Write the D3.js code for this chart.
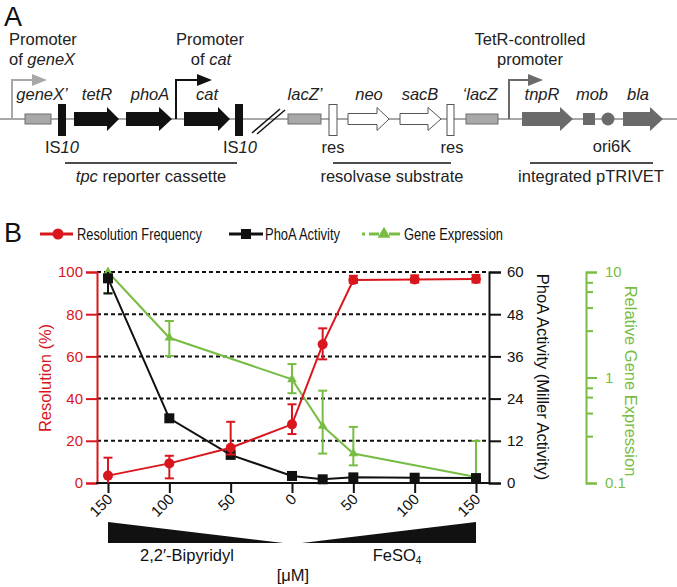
<!DOCTYPE html>
<html><head><meta charset="utf-8">
<script src="https://cdn.jsdelivr.net/npm/d3@7"></script>
<style>
body{margin:0;background:#fff;}
svg{display:block;font-family:"Liberation Sans",Arial,Helvetica,sans-serif;}
</style></head>
<body><svg id="c" width="677" height="587"></svg>
<script>
// ---------- Panel B data ----------
// signed concentration (µM): negative = 2,2'-Bipyridyl, positive = FeSO4
const conc = [-150, -100, -50, 0, 25, 50, 100, 150];
const tickConc = [-150, -100, -50, 0, 50, 100, 150];
const resolution = [3.5, 9.3, 16.7, 27.8, 65.7, 96.2, 96.5, 96.7];
const resolutionLow = [0, 2.2, 13.5, 23.2, 58.6, 94.8, 95.0, 95.0];
const resolutionHigh = [12, 12.9, 29.0, 37.3, 73.3, 98.2, 98.4, 98.6];
const phoA = [58.2, 18.4, 8.0, 2.0, 1.05, 1.6, 1.5, 1.4];
const phoALow = [53.9, 18.4, 8.0, 2.0, 1.05, 1.6, 1.5, 1.4];
const phoAHigh = [60, 18.4, 8.0, 2.0, 1.05, 1.6, 1.5, 1.4];
const geneConc = [-150, -100, 0, 25, 50, 150];
const geneExpr = [10, 2.38, 0.96, 0.347, 0.19, 0.114];
const geneLow = [6.3, 1.6, 0.71, 0.19, 0.147, 0.1];
const geneHigh = [10, 3.43, 1.34, 0.75, 0.34, 0.25];
const resTicks = [0, 20, 40, 60, 80, 100];
const phoTicks = [0, 12, 24, 36, 48, 60];
const geneMajor = [0.1, 1, 10];
const geneMinor = [7.9, 6.45, 4.55, 2.75, 0.79, 0.645, 0.455, 0.275];

// ---------- Panel A data (map positions along construct) ----------
const backbone = [0, 677];
const greyBoxes = [{x0:25,x1:51,name:"geneX\u2019"},{x0:288,x1:321,name:"lacZ\u2019"},{x0:466,x1:498,name:"\u2018lacZ"}];
const isBars = [{x0:58,x1:66},{x0:235,x1:243}];
const blackArrows = [{x0:74,xh:107,x1:119,name:"tetR"},{x0:126,xh:159,x1:172,name:"phoA"},{x0:184,xh:218,x1:230,name:"cat"}];
const openArrows = [{x0:348,xh:377,x1:389,name:"neo"},{x0:400,xh:428,x1:441,name:"sacB"}];
const darkArrows = [{x0:522,xh:560,x1:573,name:"tnpR"},{x0:623,xh:650,x1:663,name:"bla"}];
const resBoxes = [{x0:329,x1:337},{x0:447,x1:454}];
const promoters = [{x:12,tip:47,color:"#a8a8a8"},{x:176,tip:212,color:"#111"},{x:509,tip:543,color:"#6a6a6a"}];
const brackets = [{x0:65,x1:237,label:"tpc"},{x0:333,x1:451,label:"resolvase substrate"},{x0:530,x1:653,label:"integrated pTRIVET"}];

const RED = "#d9161e", GREEN = "#78bd43", BLACK = "#111";
const svg = d3.select("#c");
const xa = d3.scaleLinear().domain([0,677]).range([0,677]);
const yLine = 119;

// ===== Panel A =====
const A = svg.append("g");
A.append("text").attr("x",4).attr("y",26).attr("font-size",27).attr("fill","#111").text("A");
A.append("line").attr("x1",xa(backbone[0])).attr("x2",xa(backbone[1])).attr("y1",yLine).attr("y2",yLine).attr("stroke","#a8a8a8").attr("stroke-width",2);
// promoters
promoters.forEach(p=>{
  A.append("path").attr("d",`M${xa(p.x)},${yLine}V80H${xa(p.tip)-14}`).attr("fill","none").attr("stroke",p.color).attr("stroke-width",2);
  A.append("path").attr("d",`M${xa(p.tip)-15},74L${xa(p.tip)},80L${xa(p.tip)-15},86Z`).attr("fill",p.color);
});
// grey boxes
greyBoxes.forEach(b=>{
  A.append("rect").attr("x",xa(b.x0)).attr("y",114).attr("width",xa(b.x1)-xa(b.x0)).attr("height",10).attr("fill","#a8a8a8").attr("stroke","#6f6f6f").attr("stroke-width",1);
});
isBars.forEach(b=>A.append("rect").attr("x",xa(b.x0)).attr("y",104).attr("width",xa(b.x1)-xa(b.x0)).attr("height",32).attr("fill","#111"));
resBoxes.forEach(b=>A.append("rect").attr("x",xa(b.x0)).attr("y",104.5).attr("width",xa(b.x1)-xa(b.x0)).attr("height",31).attr("fill","#fff").attr("stroke","#555").attr("stroke-width",1));
function arrowPath(a,bh,hh){
  return `M${xa(a.x0)},${yLine-bh}H${xa(a.xh)}V${yLine-hh}L${xa(a.x1)},${yLine}L${xa(a.xh)},${yLine+hh}V${yLine+bh}H${xa(a.x0)}Z`;
}
blackArrows.forEach(a=>A.append("path").attr("d",arrowPath(a,7,12)).attr("fill","#111"));
openArrows.forEach(a=>A.append("path").attr("d",arrowPath(a,5.5,11.5)).attr("fill","#fff").attr("stroke","#555").attr("stroke-width",1));
darkArrows.forEach(a=>A.append("path").attr("d",arrowPath(a,7,12)).attr("fill","#6a6a6a"));
A.append("rect").attr("x",xa(583)).attr("y",113).attr("width",12).attr("height",12).attr("fill","#6a6a6a");
A.append("circle").attr("cx",xa(608)).attr("cy",yLine).attr("r",6.5).attr("fill","#6a6a6a");
// break marks
A.append("line").attr("x1",252).attr("y1",133).attr("x2",280).attr("y2",109).attr("stroke","#111").attr("stroke-width",1.5);
A.append("line").attr("x1",257).attr("y1",134).attr("x2",285).attr("y2",110).attr("stroke","#111").attr("stroke-width",1.5);
// gene labels
const fA = 16.5;
function lab(x,y,t,it,anchor){
  return A.append("text").attr("x",x).attr("y",y).attr("font-size",fA).attr("fill","#222").attr("text-anchor",anchor||"middle").attr("font-style",it?"italic":"normal").text(t);
}
greyBoxes.forEach((b,i)=>lab(xa([42,305,480][i]),100,b.name,true));
blackArrows.forEach((a,i)=>lab(xa([97,150,207][i]),100,a.name,true));
openArrows.forEach((a,i)=>lab(xa([369,420][i]),100,a.name,true));
darkArrows.forEach((a,i)=>lab(xa([542,638][i]),100,a.name,true));
lab(xa(592),100,"mob",true);
lab(9,45,"Promoter",false,"start");
{const t=lab(9,65,"of ",false,"start"); t.append("tspan").attr("font-style","italic").text("geneX");}
lab(210,45,"Promoter");
{const t=lab(211,65,"of ");t.append("tspan").attr("font-style","italic").text("cat");}
lab(530,45,"TetR-controlled");
lab(530,65,"promoter");
[62,240].forEach(x=>{const t=lab(x,153,"IS");t.append("tspan").attr("font-style","italic").text("10");});
lab(333,153,"res"); lab(452,153,"res"); lab(612,152,"ori6K");
brackets.forEach(b=>A.append("line").attr("x1",xa(b.x0)).attr("x2",xa(b.x1)).attr("y1",163).attr("y2",163).attr("stroke","#111").attr("stroke-width",1.5));
{const t=lab(151,182,"tpc",true); t.append("tspan").attr("font-style","normal").text(" reporter cassette");}
lab(392,182,"resolvase substrate");
lab(591,182,"integrated pTRIVET");

// ===== Panel B =====
const B = svg.append("g");
B.append("text").attr("x",4).attr("y",242).attr("font-size",27).attr("fill","#111").text("B");
// legend
const ly = 234;
B.append("line").attr("x1",40).attr("x2",73).attr("y1",ly).attr("y2",ly).attr("stroke",RED).attr("stroke-width",3);
B.append("circle").attr("cx",58).attr("cy",ly).attr("r",5.5).attr("fill",RED);
B.append("text").attr("x",77).attr("y",ly+6).attr("font-size",16.5).attr("fill","#111").attr("textLength",125).attr("lengthAdjust","spacingAndGlyphs").text("Resolution Frequency");
B.append("line").attr("x1",229).attr("x2",263).attr("y1",ly).attr("y2",ly).attr("stroke",BLACK).attr("stroke-width",3);
B.append("rect").attr("x",241).attr("y",ly-5).attr("width",10).attr("height",10).attr("fill",BLACK);
B.append("text").attr("x",265).attr("y",ly+6).attr("font-size",16.5).attr("fill","#111").attr("textLength",75).attr("lengthAdjust","spacingAndGlyphs").text("PhoA Activity");
[[362,365],[369,379],[389,400]].forEach(s=>B.append("line").attr("x1",s[0]).attr("x2",s[1]).attr("y1",ly).attr("y2",ly).attr("stroke",GREEN).attr("stroke-width",3));
B.append("path").attr("d",d3.symbol(d3.symbolTriangle,70)()).attr("transform",`translate(384,${ly})`).attr("fill",GREEN);
B.append("text").attr("x",404).attr("y",ly+6).attr("font-size",16.5).attr("fill","#111").attr("textLength",99).attr("lengthAdjust","spacingAndGlyphs").text("Gene Expression");

// scales
const x = d3.scaleLinear().domain([-150,150]).range([108,476]);
const yR = d3.scaleLinear().domain([0,100]).range([483,272]);
const yP = d3.scaleLinear().domain([0,60]).range([483,272]);
const yG = d3.scaleLog().domain([0.1,10]).range([483,272]);
const L = 97, R = 489;

// gridlines
B.append("g").selectAll("line").data(resTicks.filter(d=>d>0)).join("line")
  .attr("x1",L).attr("x2",R).attr("y1",d=>yR(d)).attr("y2",d=>yR(d))
  .attr("stroke","#111").attr("stroke-width",2).attr("stroke-dasharray","4,3");

// left axis (red)
const axL = B.append("g").attr("transform",`translate(${L},0)`)
  .call(d3.axisLeft(yR).tickValues(resTicks).tickSize(11).tickPadding(3));
axL.select(".domain").attr("stroke",RED).attr("stroke-width",2);
axL.selectAll(".tick line").attr("stroke",RED).attr("stroke-width",2);
axL.selectAll(".tick text").attr("fill",RED).attr("font-size",15).attr("font-family","Liberation Sans,Arial,sans-serif");
B.append("text").attr("transform",`translate(51,378) rotate(-90)`).attr("text-anchor","middle").attr("font-size",16.5).attr("fill",RED).text("Resolution (%)");

// right axis (black)
const axR = B.append("g").attr("transform",`translate(${R},0)`)
  .call(d3.axisRight(yP).tickValues(phoTicks).tickSize(12).tickPadding(6));
axR.select(".domain").attr("stroke","#111").attr("stroke-width",2);
axR.selectAll(".tick line").attr("stroke","#111").attr("stroke-width",2);
axR.selectAll(".tick text").attr("fill","#111").attr("font-size",15).attr("font-family","Liberation Sans,Arial,sans-serif");
B.append("text").attr("transform",`translate(537,377) rotate(90)`).attr("text-anchor","middle").attr("font-size",16.5).attr("fill","#111").text("PhoA Activity (Miller Activity)");

// green log axis
const GX = 586;
const axG = B.append("g").attr("transform",`translate(${GX},0)`)
  .call(d3.axisRight(yG).tickValues(geneMajor).tickFormat(d=>String(d)).tickSize(11).tickPadding(8));
axG.select(".domain").attr("stroke",GREEN).attr("stroke-width",2);
axG.selectAll(".tick line").attr("stroke",GREEN).attr("stroke-width",2);
axG.selectAll(".tick text").attr("fill",GREEN).attr("font-size",15).attr("font-family","Liberation Sans,Arial,sans-serif");
B.append("g").selectAll("line").data(geneMinor).join("line")
  .attr("x1",GX).attr("x2",GX+7).attr("y1",d=>yG(d)).attr("y2",d=>yG(d)).attr("stroke",GREEN).attr("stroke-width",2);
B.append("text").attr("transform",`translate(625,381) rotate(90)`).attr("text-anchor","middle").attr("font-size",16.5).attr("fill",GREEN).text("Relative Gene Expression");

// x axis
const axX = B.append("g").attr("transform",`translate(0,483)`)
  .call(d3.axisBottom(x).tickValues(tickConc).tickFormat(d=>String(Math.abs(d))).tickSize(10).tickPadding(0));
axX.select(".domain").remove();
B.append("line").attr("x1",L-1).attr("x2",R).attr("y1",483).attr("y2",483).attr("stroke","#111").attr("stroke-width",2);
axX.selectAll(".tick line").attr("stroke","#111").attr("stroke-width",2);
axX.selectAll(".tick text").attr("font-size",15).attr("fill","#111").attr("font-family","Liberation Sans,Arial,sans-serif")
  .attr("text-anchor","end").attr("dy",0).attr("y",0).attr("transform","translate(5,17) rotate(-45)");

// wedges
const wedgeTop = 522, wedgeBot = 543;
B.append("path").attr("d",`M${x(-150)},${wedgeTop}L${x(-150)},${wedgeBot}L${x(-7)},${wedgeBot}Z`).attr("fill","#111");
B.append("path").attr("d",`M${x(8)},${wedgeBot}L${x(150)},${wedgeBot}L${x(150)},${wedgeTop}Z`).attr("fill","#111");
B.append("text").attr("x",187).attr("y",561).attr("text-anchor","middle").attr("font-size",16.5).attr("fill","#111").text("2,2\u2032-Bipyridyl");
{const t=B.append("text").attr("x",397).attr("y",561).attr("text-anchor","middle").attr("font-size",16.5).attr("fill","#111").text("FeSO");
 t.append("tspan").attr("font-size",10).attr("dy",3).text("4");}
B.append("text").attr("x",293).attr("y",581).attr("text-anchor","middle").attr("font-size",16.5).attr("fill","#111").text("[\u03bcM]");

// error bar helper
function errBars(xs, lo, hi, ys, color){
  const g = B.append("g").attr("stroke",color).attr("stroke-width",2);
  xs.forEach((c,i)=>{
    const X = x(c), y0 = ys(lo[i]), y1 = ys(hi[i]);
    if (Math.abs(y0-y1) < 1) return;
    g.append("line").attr("x1",X).attr("x2",X).attr("y1",y0).attr("y2",y1);
    [y0,y1].forEach(yy=>{ if (yy<482 && yy>273) g.append("line").attr("x1",X-4.5).attr("x2",X+4.5).attr("y1",yy).attr("y2",yy); });
  });
}

// green series
errBars(geneConc, geneLow, geneHigh, yG, GREEN);
B.append("path").datum(geneConc.map((c,i)=>[c,geneExpr[i]]))
  .attr("d",d3.line().x(d=>x(d[0])).y(d=>yG(d[1]))).attr("fill","none").attr("stroke",GREEN).attr("stroke-width",2);
B.append("g").selectAll("path").data(geneConc.map((c,i)=>[c,geneExpr[i]])).join("path")
  .attr("d",d3.symbol(d3.symbolTriangle,40)()).attr("transform",d=>`translate(${x(d[0])},${yG(d[1])})`).attr("fill",GREEN);

// black series
errBars(conc, phoALow, phoAHigh, yP, BLACK);
B.append("path").datum(conc.map((c,i)=>[c,phoA[i]]))
  .attr("d",d3.line().x(d=>x(d[0])).y(d=>yP(d[1]))).attr("fill","none").attr("stroke",BLACK).attr("stroke-width",2);
B.append("g").selectAll("rect").data(conc.map((c,i)=>[c,phoA[i]])).join("rect")
  .attr("x",d=>x(d[0])-5).attr("y",d=>yP(d[1])-5).attr("width",10).attr("height",10).attr("fill",BLACK);

// red series
errBars(conc, resolutionLow, resolutionHigh, yR, RED);
B.append("path").datum(conc.map((c,i)=>[c,resolution[i]]))
  .attr("d",d3.line().x(d=>x(d[0])).y(d=>yR(d[1]))).attr("fill","none").attr("stroke",RED).attr("stroke-width",2);
B.append("g").selectAll("circle").data(conc.map((c,i)=>[c,resolution[i]])).join("circle")
  .attr("cx",d=>x(d[0])).attr("cy",d=>yR(d[1])).attr("r",5).attr("fill",RED);
</script></body></html>
